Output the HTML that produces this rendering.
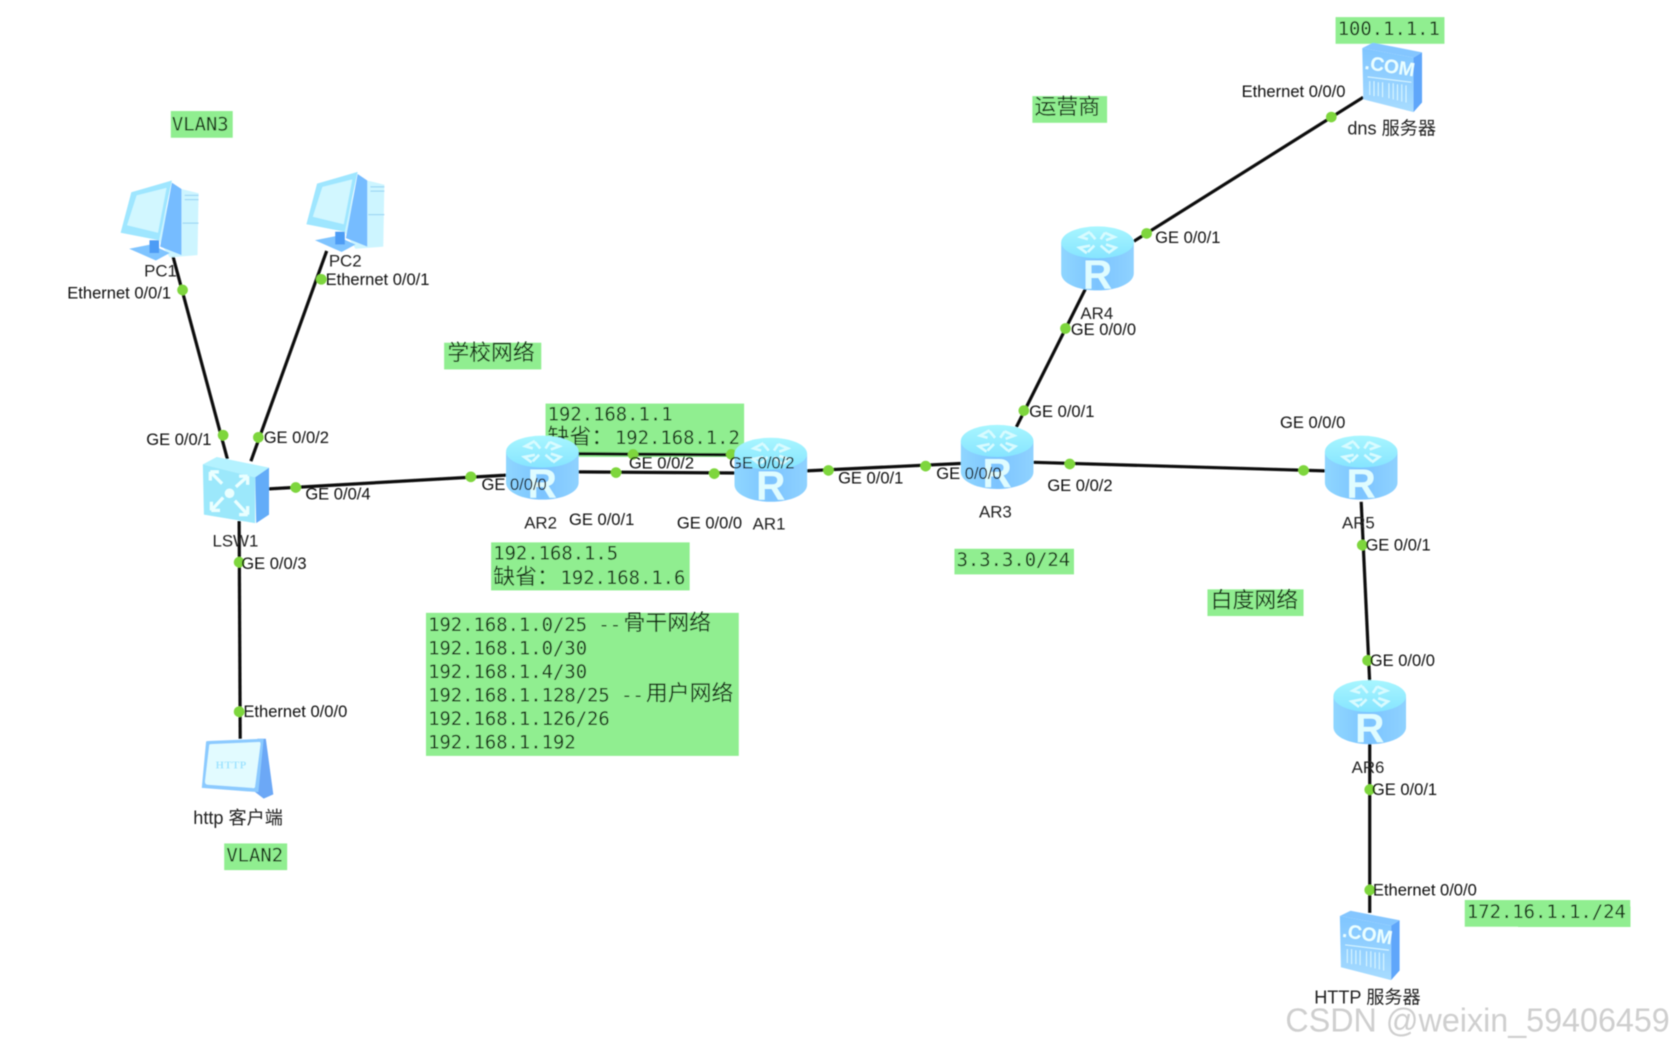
<!DOCTYPE html>
<html><head><meta charset="utf-8"><style>
html,body{margin:0;padding:0;background:#fff}
svg{display:block}
.l{font:15.5px "Liberation Sans",sans-serif;fill:#111}
.m{font:17.68px "DejaVu Sans Mono","Liberation Mono",monospace;fill:#153015}
.c{font:20.5px "Noto Sans CJK SC","WenQuanYi Zen Hei",sans-serif;fill:#153015}
.n{font:15.8px "Liberation Sans","Noto Sans CJK SC",sans-serif;fill:#222}
.b{fill:#90ee90}
.w{stroke:#111;stroke-width:3;fill:none}
.d{fill:#7ed63e}
</style></head><body>
<svg xmlns="http://www.w3.org/2000/svg" width="1674" height="1051" viewBox="0 0 1568 984.4">
<defs>
<filter id="s" x="-5%" y="-5%" width="110%" height="110%"><feGaussianBlur stdDeviation="0.5"/></filter>
<linearGradient id="rb" x1="0" x2="1" y1="0" y2="0"><stop offset="0" stop-color="#8fd6ff"/><stop offset=".5" stop-color="#7cc4ff"/><stop offset="1" stop-color="#8fd2ff"/></linearGradient>
<linearGradient id="rt" x1="0" x2="0" y1="0" y2="1"><stop offset="0" stop-color="#a8f6ff"/><stop offset="1" stop-color="#86e4ff"/></linearGradient>
<linearGradient id="sv" x1="0" x2="0" y1="0" y2="1"><stop offset="0" stop-color="#7fc5ff"/><stop offset="1" stop-color="#a8dcff"/></linearGradient>
<symbol id="router" viewBox="0 0 68 60" width="68" height="60" overflow="visible">
<path d="M0 15V44C0 53 15 60 34 60S68 53 68 44V15Z" fill="url(#rb)"/>
<ellipse cx="34" cy="15" rx="34" ry="15" fill="url(#rt)"/>
<g stroke="#d8fbff" stroke-width="2.4" fill="none"><path d="M27 5L18 10L25 12M41 6L50 10L42 13M24 25L17 20L27 18M44 25L51 20L42 17M27 6L32 12M41 6L37 12M25 24L31 18M44 24L37 18"/></g>
<text x="34" y="58" text-anchor="middle" style="font:38px 'Liberation Sans',sans-serif;font-weight:bold;fill:#dffcff">R</text>
</symbol>
<symbol id="pc" viewBox="0 0 75 72" width="75" height="72" overflow="visible">
<path d="M48 8L57 8L73 12L72 70L46 72L35 55Z" fill="#cdf5ff"/>
<path d="M48 2L57 8L57 70L37 62Z" fill="#76bcff"/>
<path d="M8 64L28 60L46 68L33 75Z" fill="#7fc4ff"/>
<path d="M27 56H36V68H27Z" fill="#4d9cf5"/>
<path d="M0 49L10 11L48 0L36 56Z" fill="#9fe6ff"/>
<path d="M6 42L15 14L43 7L35 49Z" fill="#d2f7ff"/>
<path d="M60 14H73M60 18H73M58 40H73" stroke="#9fd8f5" stroke-width="1.2"/>
</symbol>
<symbol id="sw" viewBox="0 0 62 60" width="62" height="60" overflow="visible">
<path d="M0 7L13 0L62 10L49 19Z" fill="#b4f2ff"/>
<path d="M49 19L62 10V54L50 62Z" fill="#64acf8"/>
<path d="M0 7L49 19V62L1 54Z" fill="#9ce8fb"/>
<g stroke="#eaffff" stroke-width="3" fill="none"><path d="M7 14L18 25M7 14V22M7 14H15M42 18L31 28M42 18V26M42 18H34M8 50L19 38M8 50H16M8 50V42M42 54L30 41M42 54H34M42 54V46"/></g>
<circle cx="25" cy="34" r="4.5" fill="#eaffff"/>
</symbol>
<symbol id="srv" viewBox="0 0 56 66" width="56" height="66" overflow="visible">
<path d="M0 5L10 0L56 9L48 14Z" fill="#84c6ff"/>
<path d="M48 14L56 9V56L48 65Z" fill="#5fa6fa"/>
<path d="M0 5L48 14V65L1 53Z" fill="url(#sv)"/>
<text x="25" y="28" text-anchor="middle" transform="rotate(9 25 28)" style="font:bold 18px 'Liberation Sans',sans-serif;fill:#eaffff">.COM</text>
<g stroke="#d8f6ff" stroke-width="1"><path d="M5 32L46 37M7 36V49M11 36V50M15 37V50M19 37V51M25 38V52M29 38V53M33 39V54M37 39V55M41 40V56"/></g>
</symbol>
<symbol id="web" viewBox="0 0 67 56" width="67" height="56" overflow="visible">
<path d="M52 0H60L67 52L58 56L50 50Z" fill="#6ca8f6"/>
<path d="M4 3Q4 2 6 2L58 0L53 50L0 46Z" fill="#8bcaff"/>
<path d="M7 6Q7 5 9 5L54 3Q55 3 55 5L50 44Q50 47 47 46L6 43Q3 43 3 40Z" fill="#e2fbff"/>
<text x="13" y="28" style="font:bold 10px 'Liberation Serif',serif;fill:#9fe4ff;letter-spacing:.5px">HTTP</text>
</symbol>
</defs>
<rect width="1568" height="985" fill="#fff"/>
<g filter="url(#s)">
<rect class="b" x="160" y="104" width="58" height="25"/>
<rect class="b" x="416" y="321" width="91" height="25"/>
<rect class="b" x="511" y="378" width="186" height="50"/>
<rect class="b" x="460" y="508" width="186" height="45"/>
<rect class="b" x="399" y="574" width="293" height="134"/>
<rect class="b" x="894" y="514" width="112" height="24"/>
<rect class="b" x="967" y="90" width="70" height="25"/>
<rect class="b" x="1251" y="16" width="102" height="25"/>
<rect class="b" x="1131" y="552" width="90" height="25"/>
<rect class="b" x="1372" y="843" width="155" height="25"/>
<rect class="b" x="210" y="790" width="59" height="25"/>

<g class="w">
<line x1="162" y1="240" x2="213" y2="430"/>
<line x1="306" y1="235" x2="235" y2="432"/>
<line x1="250" y1="458" x2="475" y2="445"/>
<line x1="224" y1="488" x2="225" y2="692"/>
<line x1="540" y1="425" x2="690" y2="426"/>
<line x1="540" y1="442" x2="690" y2="443"/>
<line x1="755" y1="441" x2="902" y2="434"/>
<line x1="952" y1="400" x2="1017" y2="270"/>
<line x1="1062" y1="226" x2="1277" y2="91"/>
<line x1="968" y1="433" x2="1241" y2="441"/>
<line x1="1275" y1="470" x2="1283" y2="640"/>
<line x1="1283" y1="695" x2="1283" y2="855"/>
</g>

<use href="#pc" x="113" y="169"/>
<use href="#pc" x="287" y="161"/>
<use href="#sw" x="190" y="428"/>
<use href="#web" x="189" y="692"/>
<use href="#router" x="994" y="212"/>
<use href="#router" x="900" y="398"/>
<use href="#router" x="1241" y="408"/>
<use href="#router" x="1249" y="637"/>
<use href="#srv" x="1276" y="40"/>
<use href="#srv" x="1255" y="853"/>

<g class="d" transform="translate(0,0.6)">
<circle cx="171" cy="271" r="5"/><circle cx="209" cy="407" r="5"/>
<circle cx="301" cy="261" r="5"/><circle cx="242" cy="409" r="5"/>
<circle cx="277" cy="456" r="5"/><circle cx="441" cy="446" r="5"/>
<circle cx="224" cy="526" r="5"/><circle cx="224" cy="666" r="5"/>
<circle cx="593" cy="425" r="5"/><circle cx="685" cy="425" r="5"/>
<circle cx="577" cy="442" r="5"/><circle cx="669" cy="443" r="5"/>
<circle cx="776" cy="440" r="5"/><circle cx="867" cy="436" r="5"/>
<circle cx="959" cy="384" r="5"/><circle cx="998" cy="307" r="5"/>
<circle cx="1074" cy="218" r="5"/><circle cx="1247" cy="109" r="5"/>
<circle cx="1002" cy="434" r="5"/><circle cx="1221" cy="440" r="5"/>
<circle cx="1276" cy="510" r="5"/><circle cx="1281" cy="618" r="5"/>
<circle cx="1283" cy="739" r="5"/><circle cx="1283" cy="833" r="5"/>
</g>

<text class="m" x="513" y="394">192.168.1.1</text>
<text class="m" x="576" y="416">192.168.1.2</text>
<text class="c" x="513" y="416">缺省：</text>
<use href="#router" x="474" y="408"/>
<use href="#router" x="688" y="410"/>

<g transform="translate(0,0.8)">
<text class="n" x="135" y="258">PC1</text>
<text class="n" x="308" y="249">PC2</text>
<text class="n" x="199" y="511">LSW1</text>
<text class="n" x="491" y="494">AR2</text>
<text class="n" x="705" y="495">AR1</text>
<text class="n" x="917" y="484">AR3</text>
<text class="n" x="1012" y="298">AR4</text>
<text class="n" x="1257" y="494">AR5</text>
<text class="n" x="1266" y="723">AR6</text>
<text class="n" x="181" y="771" style="font-size:17px">http 客户端</text>
<text class="n" x="1262" y="125" style="font-size:17px">dns 服务器</text>
<text class="n" x="1231" y="939" style="font-size:17px">HTTP 服务器</text>
<g class="l">
<text x="63" y="279">Ethernet 0/0/1</text>
<text x="305" y="266">Ethernet 0/0/1</text>
<text x="137" y="416">GE 0/0/1</text>
<text x="247" y="414">GE 0/0/2</text>
<text x="286" y="467">GE 0/0/4</text>
<text x="226" y="532">GE 0/0/3</text>
<text x="228" y="671">Ethernet 0/0/0</text>
<text x="451" y="458">GE 0/0/0</text>
<text x="589" y="438">GE 0/0/2</text>
<text x="683" y="438">GE 0/0/2</text>
<text x="533" y="491">GE 0/0/1</text>
<text x="634" y="494">GE 0/0/0</text>
<text x="785" y="452">GE 0/0/1</text>
<text x="877" y="448">GE 0/0/0</text>
<text x="981" y="459">GE 0/0/2</text>
<text x="964" y="390">GE 0/0/1</text>
<text x="1003" y="313">GE 0/0/0</text>
<text x="1082" y="227">GE 0/0/1</text>
<text x="1163" y="90">Ethernet 0/0/0</text>
<text x="1199" y="400">GE 0/0/0</text>
<text x="1279" y="515">GE 0/0/1</text>
<text x="1283" y="623">GE 0/0/0</text>
<text x="1285" y="744">GE 0/0/1</text>
<text x="1286" y="838">Ethernet 0/0/0</text>
</g>
</g>

<text class="m" x="161" y="122">VLAN3</text>
<text class="m" x="212" y="807">VLAN2</text>
<text class="m" x="896" y="530">3.3.3.0/24</text>
<text class="m" x="1253" y="33">100.1.1.1</text>
<text class="m" x="1374" y="860">172.16.1.1./24</text>
<text class="c" x="419" y="337">学校网络</text>
<text class="c" x="969" y="107">运营商</text>
<text class="c" x="1134" y="569">白度网络</text>

<text class="m" x="462" y="524">192.168.1.5</text>
<text class="c" x="462" y="547">缺省：</text>
<text class="m" x="525" y="547">192.168.1.6</text>

<text class="m" x="401" y="591">192.168.1.0/25 --</text>
<text class="c" x="584" y="590">骨干网络</text>
<text class="m" x="401" y="613">192.168.1.0/30</text>
<text class="m" x="401" y="635">192.168.1.4/30</text>
<text class="m" x="401" y="657">192.168.1.128/25 --</text>
<text class="c" x="605" y="656">用户网络</text>
<text class="m" x="401" y="679">192.168.1.126/26</text>
<text class="m" x="401" y="701">192.168.1.192</text>

<text x="1204" y="966" textLength="360" lengthAdjust="spacingAndGlyphs" style="font:31px 'Liberation Sans',sans-serif;fill:#cfcfcf">CSDN @weixin_59406459</text>
</g>
</svg>
</body></html>
